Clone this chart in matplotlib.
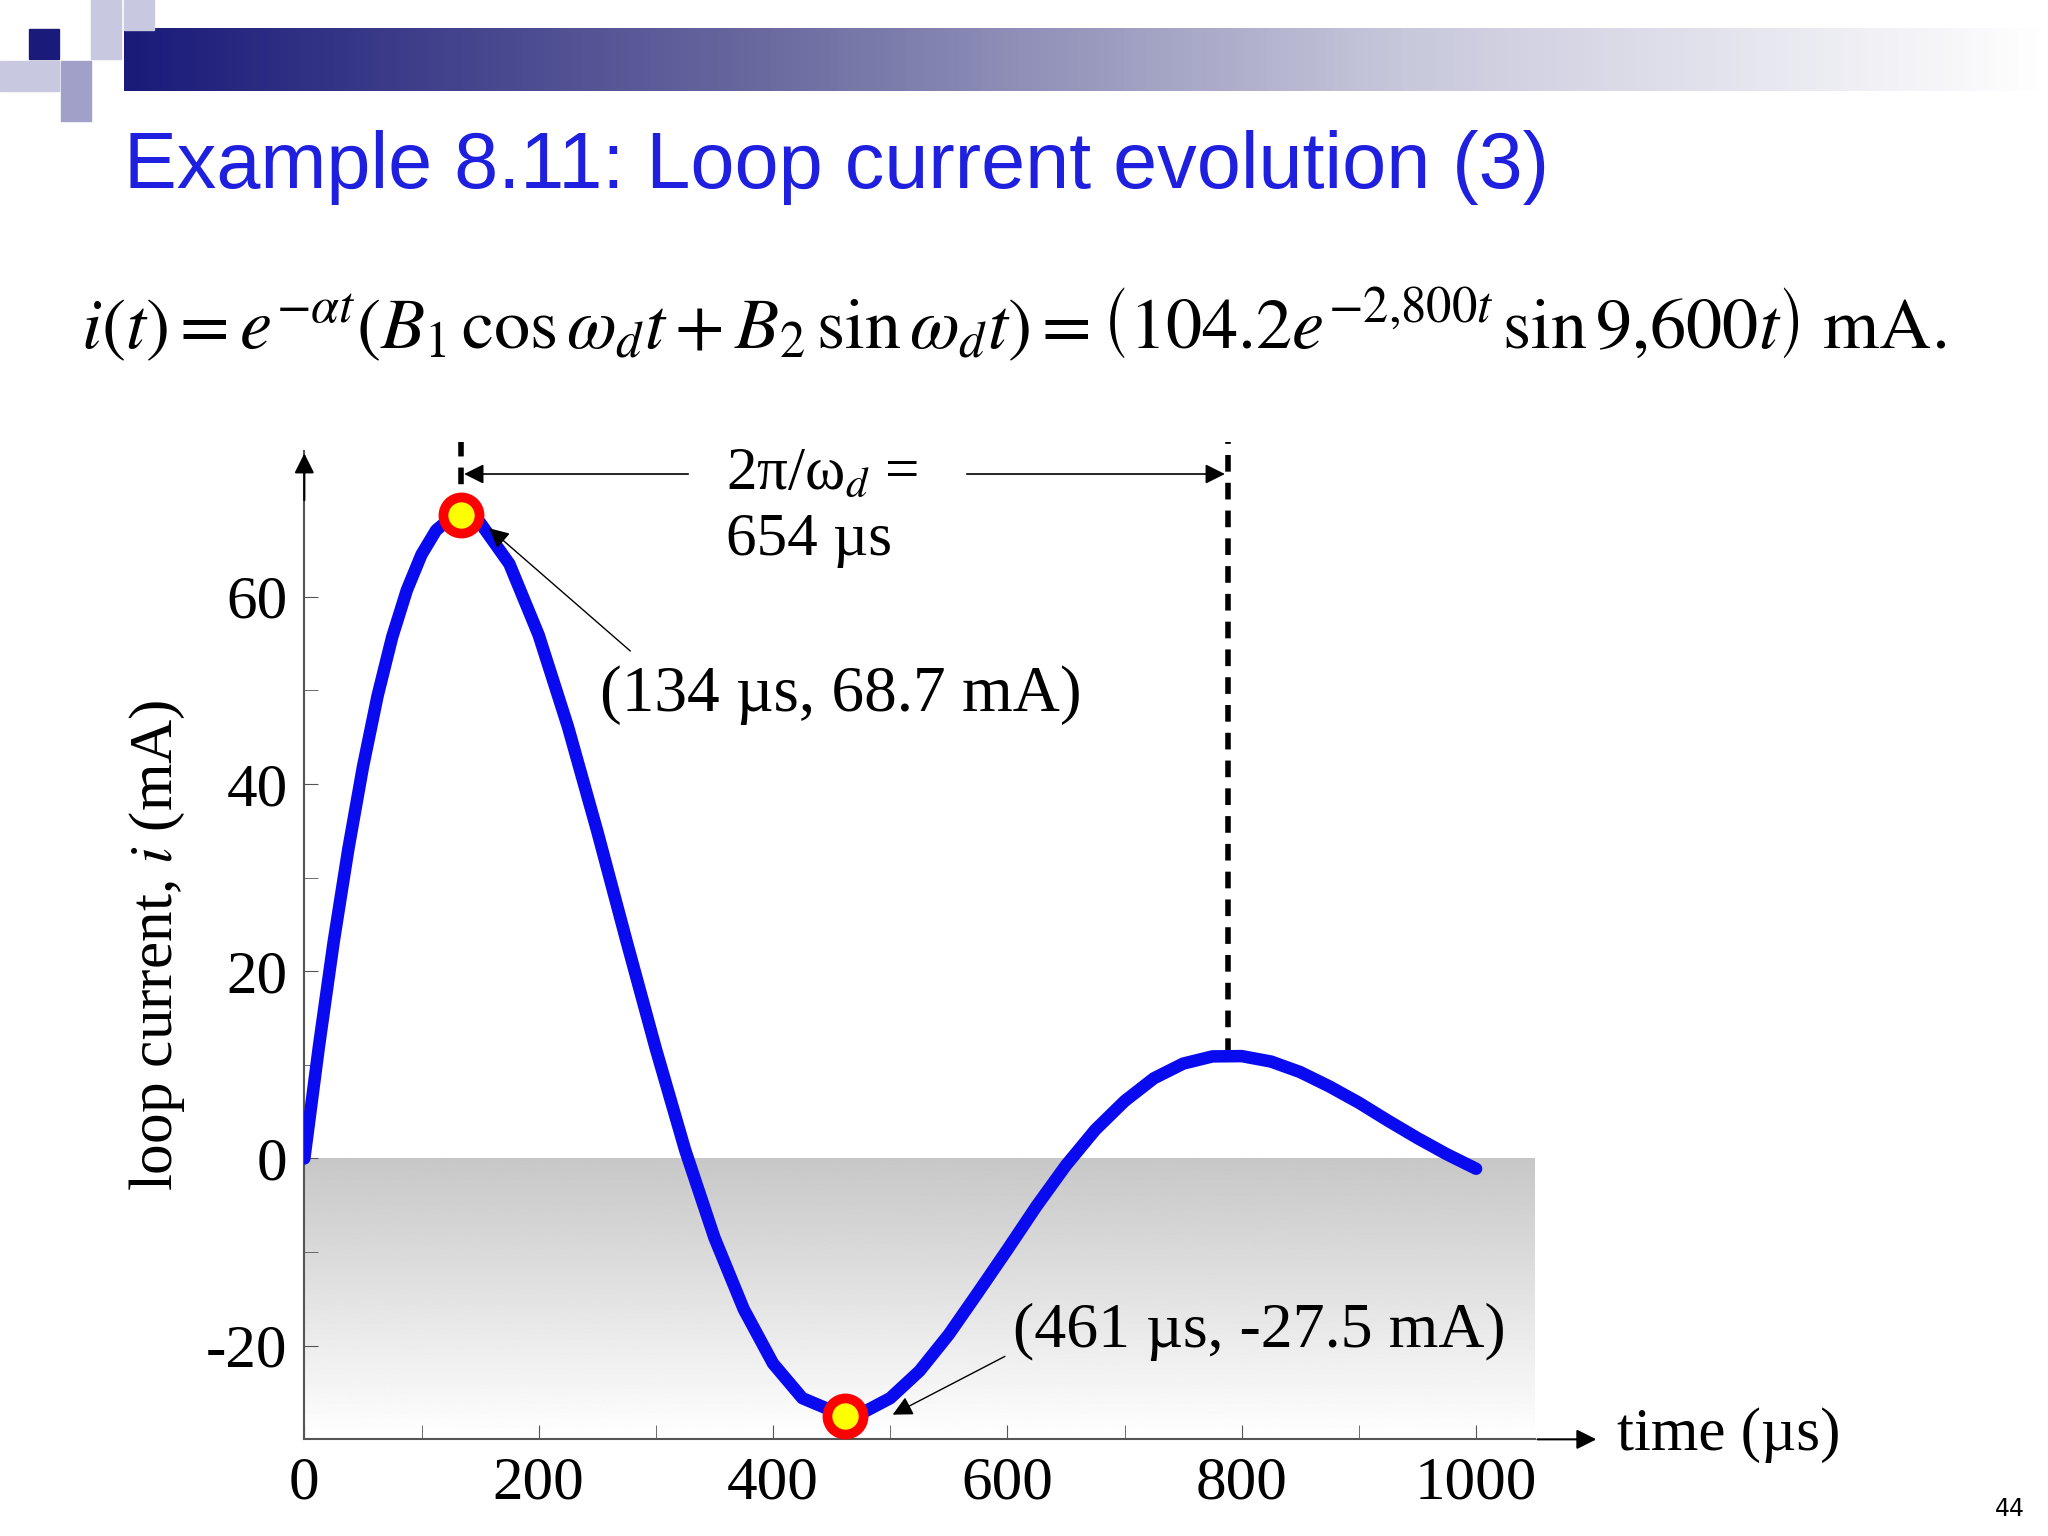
import numpy as np
import matplotlib
matplotlib.use("Agg")
import matplotlib.pyplot as plt
from matplotlib.patches import Rectangle
from matplotlib.colors import LinearSegmentedColormap

t_us = [0, 12.5, 25, 37.5, 50, 62.5, 75, 87.5, 100, 112.5, 125, 134, 150, 175, 200, 225, 250, 275,
        300, 325, 350, 375, 400, 425, 461, 475, 500, 525, 550, 575, 600, 625, 650, 675, 700, 725,
        750, 775, 800, 825, 850, 875, 900, 925, 950, 975, 1000]
i_mA = [0, 12.0, 23.1, 33.0, 41.8, 49.4, 55.7, 60.7, 64.5, 67.1, 68.4, 68.7, 67.9, 63.5, 55.9, 46.1,
        34.95, 23.2, 11.7, 0.9, -8.47, -16.1, -21.9, -25.6, -27.5, -27.25, -25.6, -22.7, -18.8, -14.3,
        -9.73, -5.06, -0.73, 3.06, 6.12, 8.56, 10.13, 10.9, 10.93, 10.35, 9.22, 7.68, 5.95, 4.02, 2.17,
        0.45, -1.10]
xticks = [0, 200, 400, 600, 800, 1000]
yticks = [-20, 0, 20, 40, 60]
ytick_labels = ["-20", "0", "20", "40", "60"]
peak = (134, 68.7)
trough = (461, -27.5)
period_end = 788

plt.rcParams['mathtext.fontset'] = 'stix'
fig = plt.figure(figsize=(20.48, 15.36), dpi=100)
W, H = 1568, 1176
def fx(x): return x / W
def fy(y): return 1 - y / H

bg = fig.add_axes([0, 0, 1, 1]); bg.set_axis_off(); bg.set_xlim(0, W); bg.set_ylim(H, 0)
grad = np.linspace(0, 1, 256)[None, :]
cm = LinearSegmentedColormap.from_list('h', ['#1a1a7a', '#6a6aa0', '#c8c8dc', '#ffffff'])
bg.imshow(grad, cmap=cm, extent=[95, 1568, 70, 22], aspect='auto', zorder=0)
for (x, y, c) in [(22, 22, '#1a1a7a'), (47, 22, '#ffffff'), (70, 0, '#c8c8e0'), (95, 0, '#c8c8e0'),
                  (0, 47, '#c8c8e0'), (22, 47, '#c8c8e0'), (47, 47, '#a0a0c8'), (70, 22, '#c8c8e0'), (47, 70, '#a0a0c8')]:
    bg.add_patch(Rectangle((x, y), 23, 23, color=c, zorder=1))
bg.text(95, 128, "Example 8.11: Loop current evolution (3)", color='#1f1fe0', fontsize=57,
        family='Liberation Sans', va='center')
bg.text(62, 248, r"$i(t) = e^{-\alpha t}\left(B_1\,\cos\omega_d t + B_2\,\sin\omega_d t\right) = \left(104.2e^{-2{,}800t}\,\sin 9{,}600t\right)\ \mathrm{mA.}$",
        fontsize=52, va='center')
bg.text(1550, 1155, "44", fontsize=17, ha='right', va='center')

ax = fig.add_axes([fx(233), fy(1102), fx(1175 - 233), (1102 - 345) / H])
ax.set_xlim(0, 1050); ax.set_ylim(-30, 75.6)
grad2 = np.linspace(0.78, 1.0, 256)[:, None]
ax.imshow(grad2, cmap='gray', vmin=0, vmax=1, extent=[0, 1050, -30, 0], aspect='auto', zorder=0)
ax.plot(t_us, i_mA, color='#0a0af0', lw=9, zorder=3, solid_capstyle='round', solid_joinstyle='round')
for p in (peak, trough):
    ax.plot(*p, 'o', ms=26, mfc='#ffff00', mec='#ff0000', mew=7, zorder=5)
for s in ['top', 'right']: ax.spines[s].set_visible(False)
ax.spines['left'].set_color('#555555'); ax.spines['bottom'].set_color('#555555')
ax.spines['left'].set_linewidth(1.5); ax.spines['bottom'].set_linewidth(1.5)
ax.set_xticks(xticks); ax.set_yticks(yticks, ytick_labels)
ax.set_xticks([100, 300, 500, 700, 900], minor=True)
ax.set_yticks([-10, 10, 30, 50], minor=True)
ax.tick_params(direction='in', length=10, labelsize=44, pad=12, color='#555555')
ax.tick_params(which='minor', direction='in', length=10, color='#555555')
for lab in ax.get_xticklabels() + ax.get_yticklabels():
    lab.set_family('Liberation Serif')
ax.set_ylabel(r"loop current, $i$ (mA)", fontsize=44, family='Liberation Serif', labelpad=14)
ax.annotate('', xy=(0, 75.6), xytext=(0, 70), annotation_clip=False,
            arrowprops=dict(arrowstyle='-|>', color='black', lw=1.5, mutation_scale=30))
ax.annotate('', xy=(1105, -30), xytext=(1050, -30), annotation_clip=False,
            arrowprops=dict(arrowstyle='-|>', color='black', lw=1.5, mutation_scale=30))
ax.text(1120, -29.5, "time (µs)", fontsize=44, family='Liberation Serif', va='center', clip_on=False)
ax.plot([peak[0], peak[0]], [69, 76.5], 'k--', lw=4, clip_on=False, dashes=(3, 2))
ax.plot([period_end, period_end], [11, 76.5], 'k--', lw=4, clip_on=False, dashes=(3, 2))
ax.annotate('', xy=(peak[0], 73.1), xytext=(330, 73.1), arrowprops=dict(arrowstyle='-|>', color='k', lw=1.2, mutation_scale=30))
ax.annotate('', xy=(period_end, 73.1), xytext=(563, 73.1), arrowprops=dict(arrowstyle='-|>', color='k', lw=1.2, mutation_scale=30))
ax.text(360, 76, r"2π/ω$_d$ =" + "\n654 µs", fontsize=44, family='Liberation Serif', ha='left', va='top',
        linespacing=1.25)
ax.annotate('', xy=(peak[0] + 22, 67.5), xytext=(280, 54),
            arrowprops=dict(arrowstyle='-|>', color='k', lw=1, mutation_scale=30))
ax.text(252, 49.5, "(134 µs, 68.7 mA)", fontsize=47, family='Liberation Serif', va='center')
ax.annotate('', xy=(500, -27.5), xytext=(600, -21),
            arrowprops=dict(arrowstyle='-|>', color='k', lw=1, mutation_scale=30))
ax.text(605, -18.5, "(461 µs, -27.5 mA)", fontsize=46, family='Liberation Serif', va='center')

fig.savefig("out.png", dpi=100)
